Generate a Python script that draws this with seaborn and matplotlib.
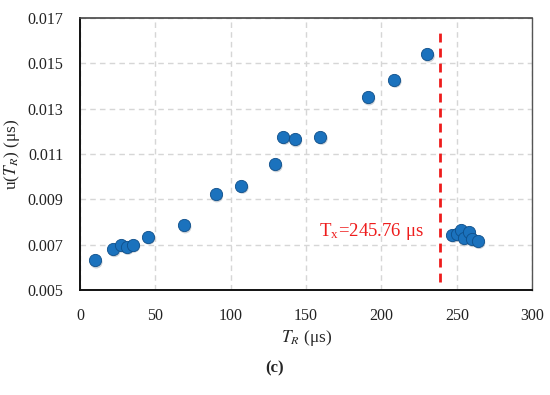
import numpy as np
import pandas as pd
import matplotlib
matplotlib.use("Agg")
import matplotlib.pyplot as plt
import seaborn as sns

# T_R values (us) and uncertainty u(T_R) (us)
t_r = [10, 22, 27.5, 31, 35, 45, 69, 90, 107, 129.5, 135, 142.5, 159.5,
       191, 208.5, 230.5,
       247, 250, 253, 254.5, 258, 260, 264]
u_tr = [0.0063, 0.0068, 0.0070, 0.0069, 0.0070, 0.00735, 0.00785, 0.00922,
        0.0096, 0.01055, 0.01176, 0.01165, 0.01176,
        0.0135, 0.01428, 0.0154,
        0.00743, 0.00748, 0.00765, 0.00728, 0.00757, 0.00724, 0.00716]

tx_line = 239
tx_label = "T$_\\mathregular{x}$=245.76 μs"
x_ticks = [0, 50, 100, 150, 200, 250, 300]
y_ticks = [0.005, 0.007, 0.009, 0.011, 0.013, 0.015, 0.017]

df = pd.DataFrame({"t_r": t_r, "u": u_tr})

sns.set_style("white")
plt.rcParams["font.family"] = ["Liberation Serif", "DejaVu Serif"]
plt.rcParams["mathtext.fontset"] = "stix"

fig = plt.figure(figsize=(5.5, 3.95), dpi=100)
ax = fig.add_axes([0.1455, 0.266, 0.822, 0.688])

# shadow then ball
sns.scatterplot(x=df["t_r"] + 0.8, y=df["u"] - 0.00008, ax=ax, s=80,
                color="#9aa6b2", edgecolor="none", alpha=0.5, legend=False, zorder=2)
sns.scatterplot(data=df, x="t_r", y="u", ax=ax, s=78, color="#1b72bd",
                edgecolor="#0f4f8a", linewidth=0.6, legend=False, zorder=3)

ax.axvline(tx_line, ymin=0.03, ymax=0.968, color="#ee1c1c", lw=2,
           ls=(0, (3.2, 2.2)), zorder=4)
ax.text(228, 0.00756, tx_label, color="#ee1c1c", fontsize=13.5,
        ha="right", va="center")

ax.set_xlim(0, 300)
ax.set_ylim(0.005, 0.017)
ax.set_xticks(x_ticks)
ax.set_yticks(y_ticks)
ax.set_xticklabels([str(v) for v in x_ticks])
ax.set_yticklabels([f"{v:.3f}" for v in y_ticks])
ax.tick_params(axis="both", length=0, labelsize=11.5, colors="#222222")
ax.tick_params(axis="x", pad=13)
ax.tick_params(axis="y", pad=12)

ax.grid(True, color="#d6d6d6", ls=(0, (4, 3)), lw=1)
ax.set_axisbelow(True)

for side in ["left", "bottom"]:
    ax.spines[side].set_color("#111111")
    ax.spines[side].set_linewidth(1.4)
ax.spines["top"].set_color("#444444")
ax.spines["top"].set_linewidth(1.2)
ax.spines["right"].set_color("#555555")
ax.spines["right"].set_linewidth(1.0)

ax.set_xlabel("$T_R$ (μs)", fontsize=12.5, labelpad=3)
ax.set_ylabel("u($T_R$) (μs)", fontsize=12.5, labelpad=4)

fig.text(0.5, 0.068, "(c)", ha="center", va="center", fontsize=12,
         fontweight="bold")

fig.savefig("out.png", dpi=100)
